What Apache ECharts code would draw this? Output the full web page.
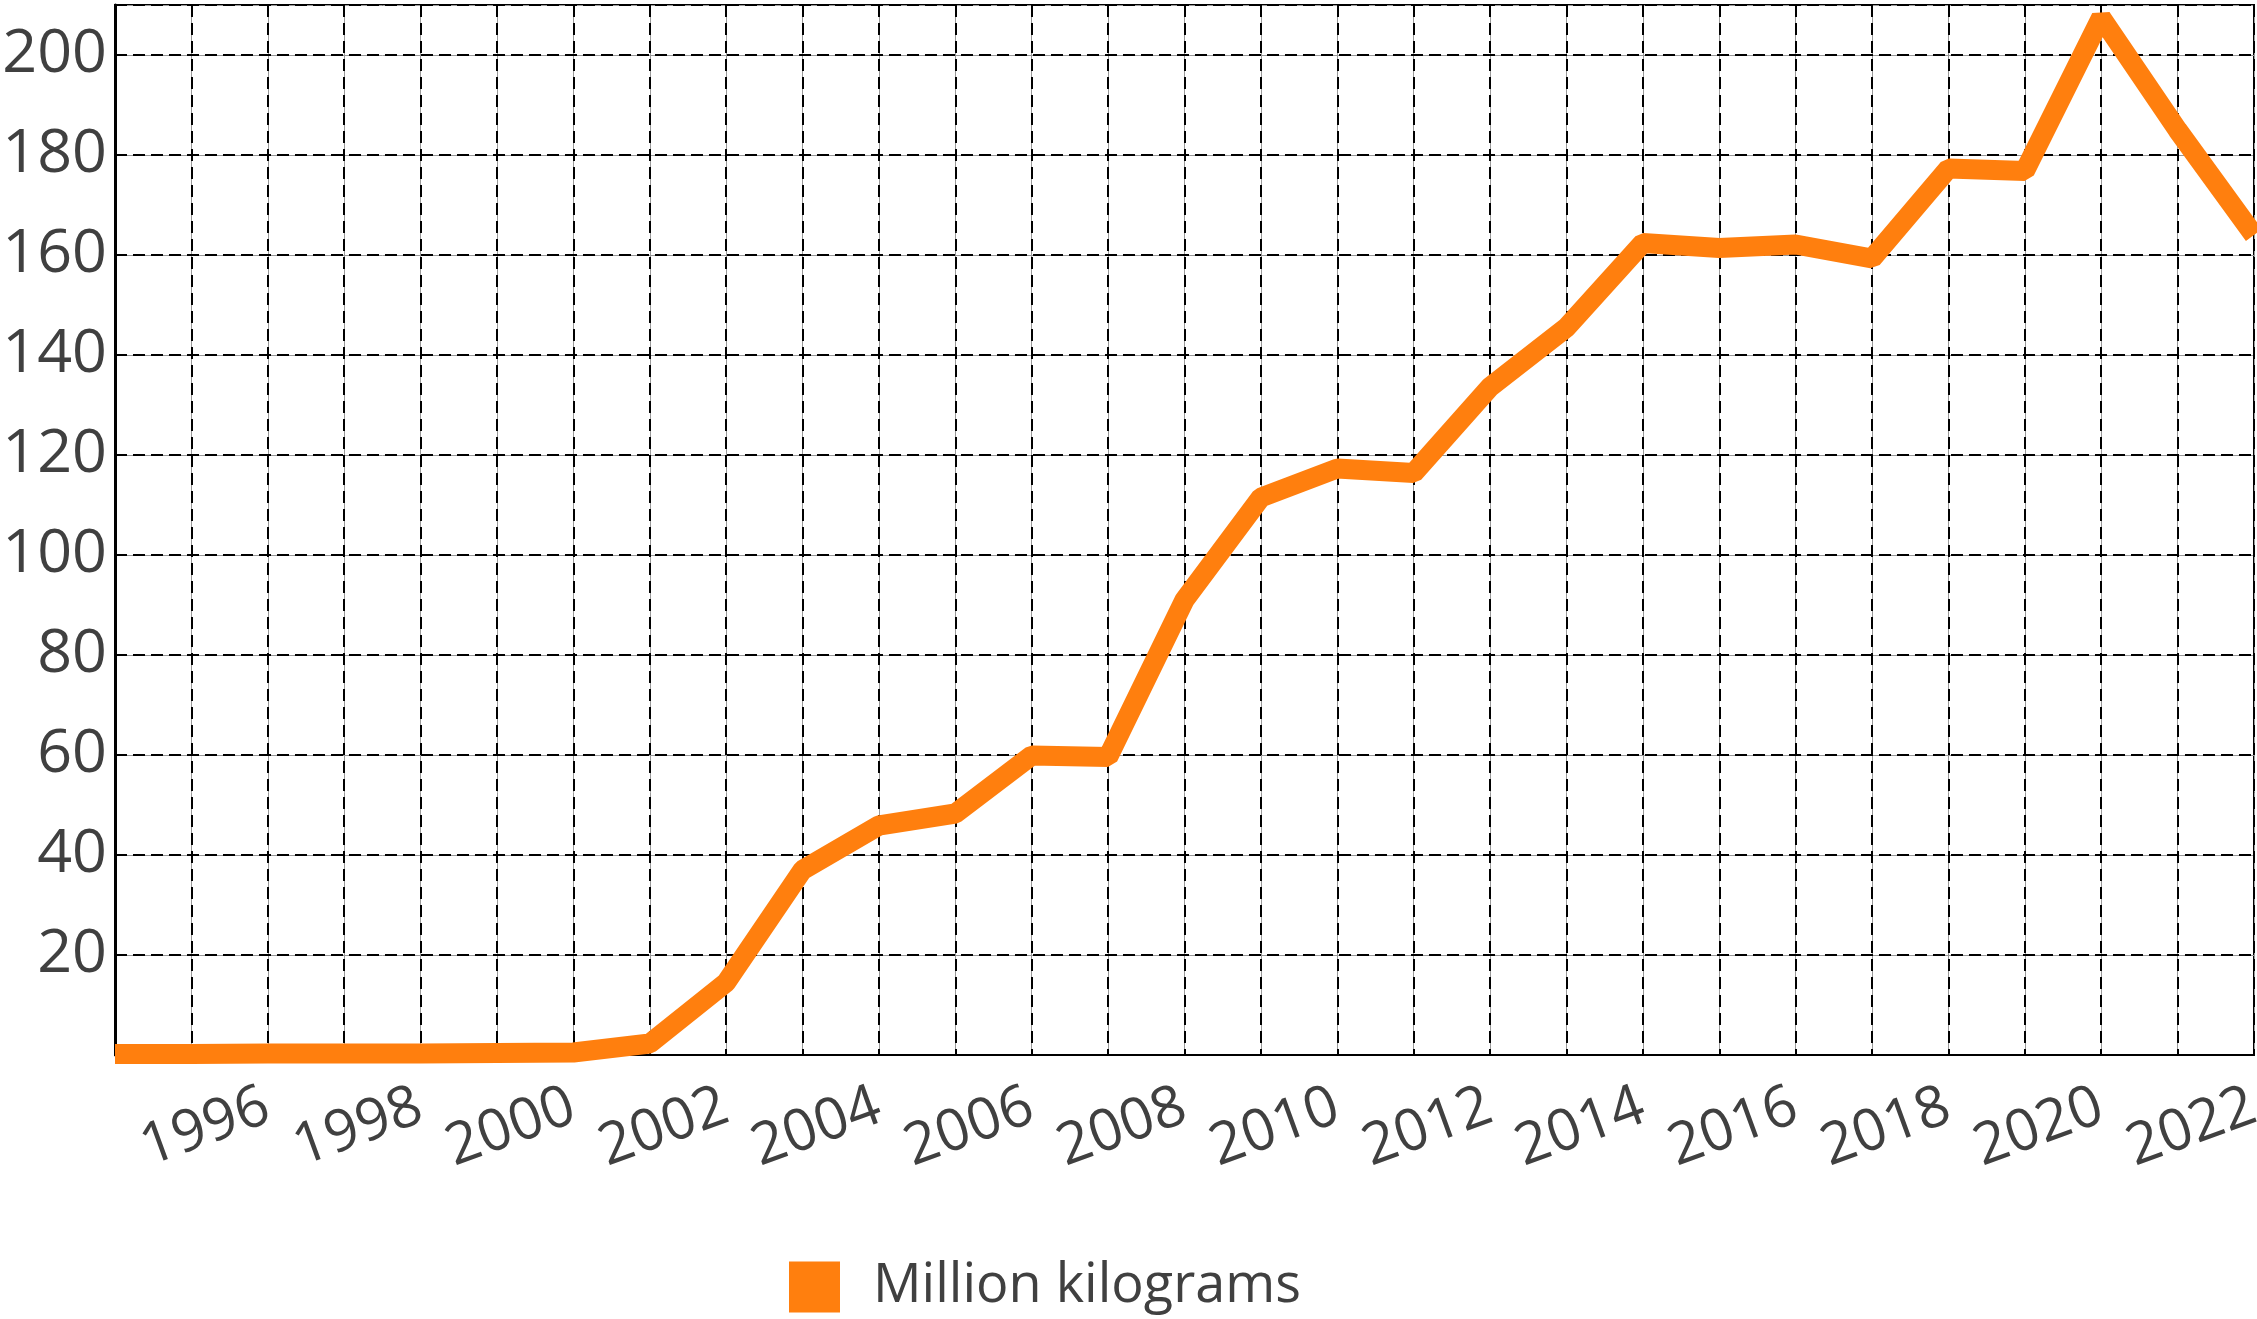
<!DOCTYPE html>
<html>
<head>
<meta charset="utf-8">
<script src="https://cdn.jsdelivr.net/npm/echarts@6/dist/echarts.min.js"></script>
<style>
html,body{margin:0;padding:0;background:#fff;overflow:hidden;}
#c{width:2257px;height:1319px;}
</style>
</head>
<body>
<div id="c"></div>
<script>
const years = ['1994','1995','1996','1997','1998','1999','2000','2001','2002','2003','2004','2005','2006','2007','2008','2009','2010','2011','2012','2013','2014','2015','2016','2017','2018','2019','2020','2021','2022'];
const kilograms = [0.2,0.2,0.3,0.3,0.3,0.4,0.5,2.3,14.5,37,45.9,48.3,59.9,59.6,91,111.5,117.3,116.4,133.6,145.5,162.4,161.4,162.1,159.3,177.3,176.8,207.5,185,164];
const seriesName = 'Million kilograms';
const yTicks = [20,40,60,80,100,120,140,160,180,200];

const textColor = '#404040';
const font = 'Open Sans';

const chart = echarts.init(document.getElementById('c'));
const baseX = {
  type: 'category', data: years, boundaryGap: false,
  axisTick: {show: false}
};
const baseY = {
  type: 'value', min: 0, max: 210, interval: 20,
  axisTick: {show: false}
};
chart.setOption({
  animation: false,
  backgroundColor: '#fff',
  grid: {left: 115, right: 3, top: 5, bottom: 264, show: true, borderColor: '#000', borderWidth: 2,
         containLabel: false, outerBoundsMode: 'none'},
  legend: {
    left: 784, top: 1255, itemWidth: 51, itemHeight: 51, icon: 'rect',
    data: [seriesName],
    textStyle: {fontFamily: font, fontSize: 54, color: textColor, padding: [0,0,0,28]}
  },
  xAxis: [
    Object.assign({}, baseX, {
      z: 5,
      axisLine: {show: true, lineStyle: {color: '#000', width: 2}},
      axisLabel: {
        interval: (i, v) => (Number(v) % 2 === 0 && v !== '1994'),
        rotate: 20, margin: 50, fontFamily: font, fontSize: 58, color: textColor
      },
      splitLine: {show: true, interval: 0, lineStyle: {color: '#000', width: 2, type: [12, 6]}}
    }),
    Object.assign({}, baseX, {
      z: 1, position: 'bottom',
      axisLine: {show: false}, axisLabel: {show: false},
      splitLine: {show: true, interval: 0, lineStyle: {color: '#999', width: 1}}
    })
  ],
  yAxis: [
    Object.assign({}, baseY, {
      z: 5,
      axisLine: {show: true, lineStyle: {color: '#000', width: 3}},
      axisLabel: {
        showMinLabel: false, showMaxLabel: false, margin: 8,
        fontFamily: font, fontSize: 61, color: textColor,
        formatter: v => (yTicks.indexOf(v) >= 0 ? String(v) : '')
      },
      splitLine: {show: true, lineStyle: {color: '#000', width: 2, type: [12, 6]}}
    }),
    Object.assign({}, baseY, {
      z: 1, position: 'left',
      axisLine: {show: false}, axisLabel: {show: false},
      splitLine: {show: true, lineStyle: {color: '#999', width: 1}}
    })
  ],
  series: [{
    name: seriesName, type: 'line', data: kilograms,
    xAxisIndex: 0, yAxisIndex: 0,
    symbol: 'none', clip: false, z: 10,
    itemStyle: {color: '#ff7f0e'},
    lineStyle: {color: '#ff7f0e', width: 20}
  }]
});
</script>
</body>
</html>
